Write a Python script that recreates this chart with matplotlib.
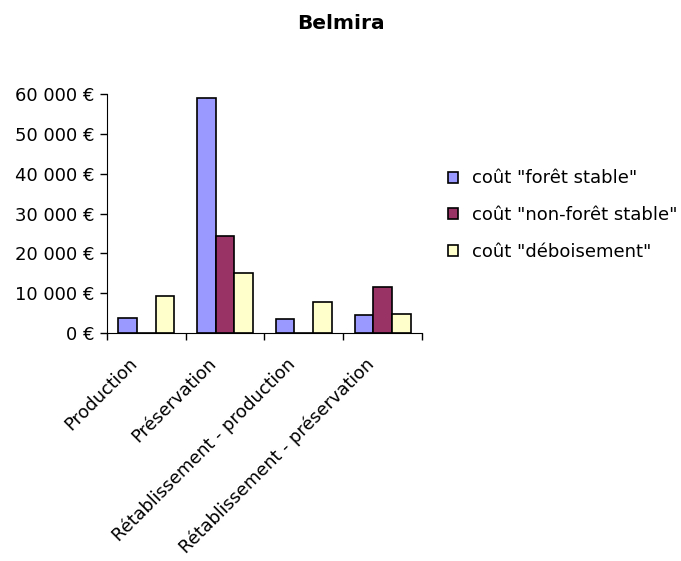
import numpy as np
import matplotlib
matplotlib.use("Agg")
import matplotlib.pyplot as plt
import matplotlib.transforms as mtransforms
from matplotlib.ticker import FuncFormatter, FixedLocator

plt.rcParams['font.family'] = ['DejaVu Sans']

categories = ["Production", "Préservation", "Rétablissement - production", "Rétablissement - préservation"]
series_names = ['coût "forêt stable"', 'coût "non-forêt stable"', 'coût "déboisement"']
cout_foret_stable = [3800, 59000, 3500, 4400]
cout_non_foret_stable = [0, 24400, 0, 11500]
cout_deboisement = [9200, 15000, 7700, 4800]
colors = ["#9999FF", "#993366", "#FFFFCC"]

fs = 13

fig = plt.figure(figsize=(6.81, 5.61), dpi=100)
ax = fig.add_axes([0.157, 0.4064, 0.4626, 0.426])

x = np.arange(len(categories))
w = 0.237
for i, (vals, name, c) in enumerate(zip([cout_foret_stable, cout_non_foret_stable, cout_deboisement],
                                        series_names, colors)):
    ax.bar(x + (i - 1) * w, vals, width=w, color=c, edgecolor="black", linewidth=1.2, label=name)

ax.set_xlim(-0.5, len(categories) - 0.5)
ax.set_ylim(0, 60000)
ax.set_yticks(np.arange(0, 60001, 10000))
ax.yaxis.set_major_formatter(FuncFormatter(lambda v, p: f"{int(v):,} €".replace(",", " ")))
ax.tick_params(axis="y", length=4.7, width=1, labelsize=fs, pad=4)

ax.set_xticks(x)
ax.set_xticklabels(categories, rotation=45, ha="right", rotation_mode="anchor", fontsize=12.8)
ax.tick_params(axis="x", which="major", length=0, pad=15.5)
ax.xaxis.set_minor_locator(FixedLocator(np.arange(-0.5, len(categories), 1.0)))
ax.tick_params(axis="x", which="minor", length=5, width=1)
# nudge the slanted labels left, as in the original
shift = mtransforms.ScaledTranslation(-0.177, 0, fig.dpi_scale_trans)
for lab in ax.get_xticklabels():
    lab.set_transform(lab.get_transform() + shift)

for s in ["top", "right"]:
    ax.spines[s].set_visible(False)

fig.text(0.5, 0.9488, "Belmira", ha="center", va="baseline", fontsize=14.5, fontweight="bold")

fig.legend(loc="upper left", bbox_to_anchor=(0.6583, 0.698), frameon=False, fontsize=fs,
           borderpad=0, borderaxespad=0,
           handlelength=0.56, handleheight=0.56, handletextpad=0.74, labelspacing=1.05)

fig.savefig("out.png", dpi=100)
